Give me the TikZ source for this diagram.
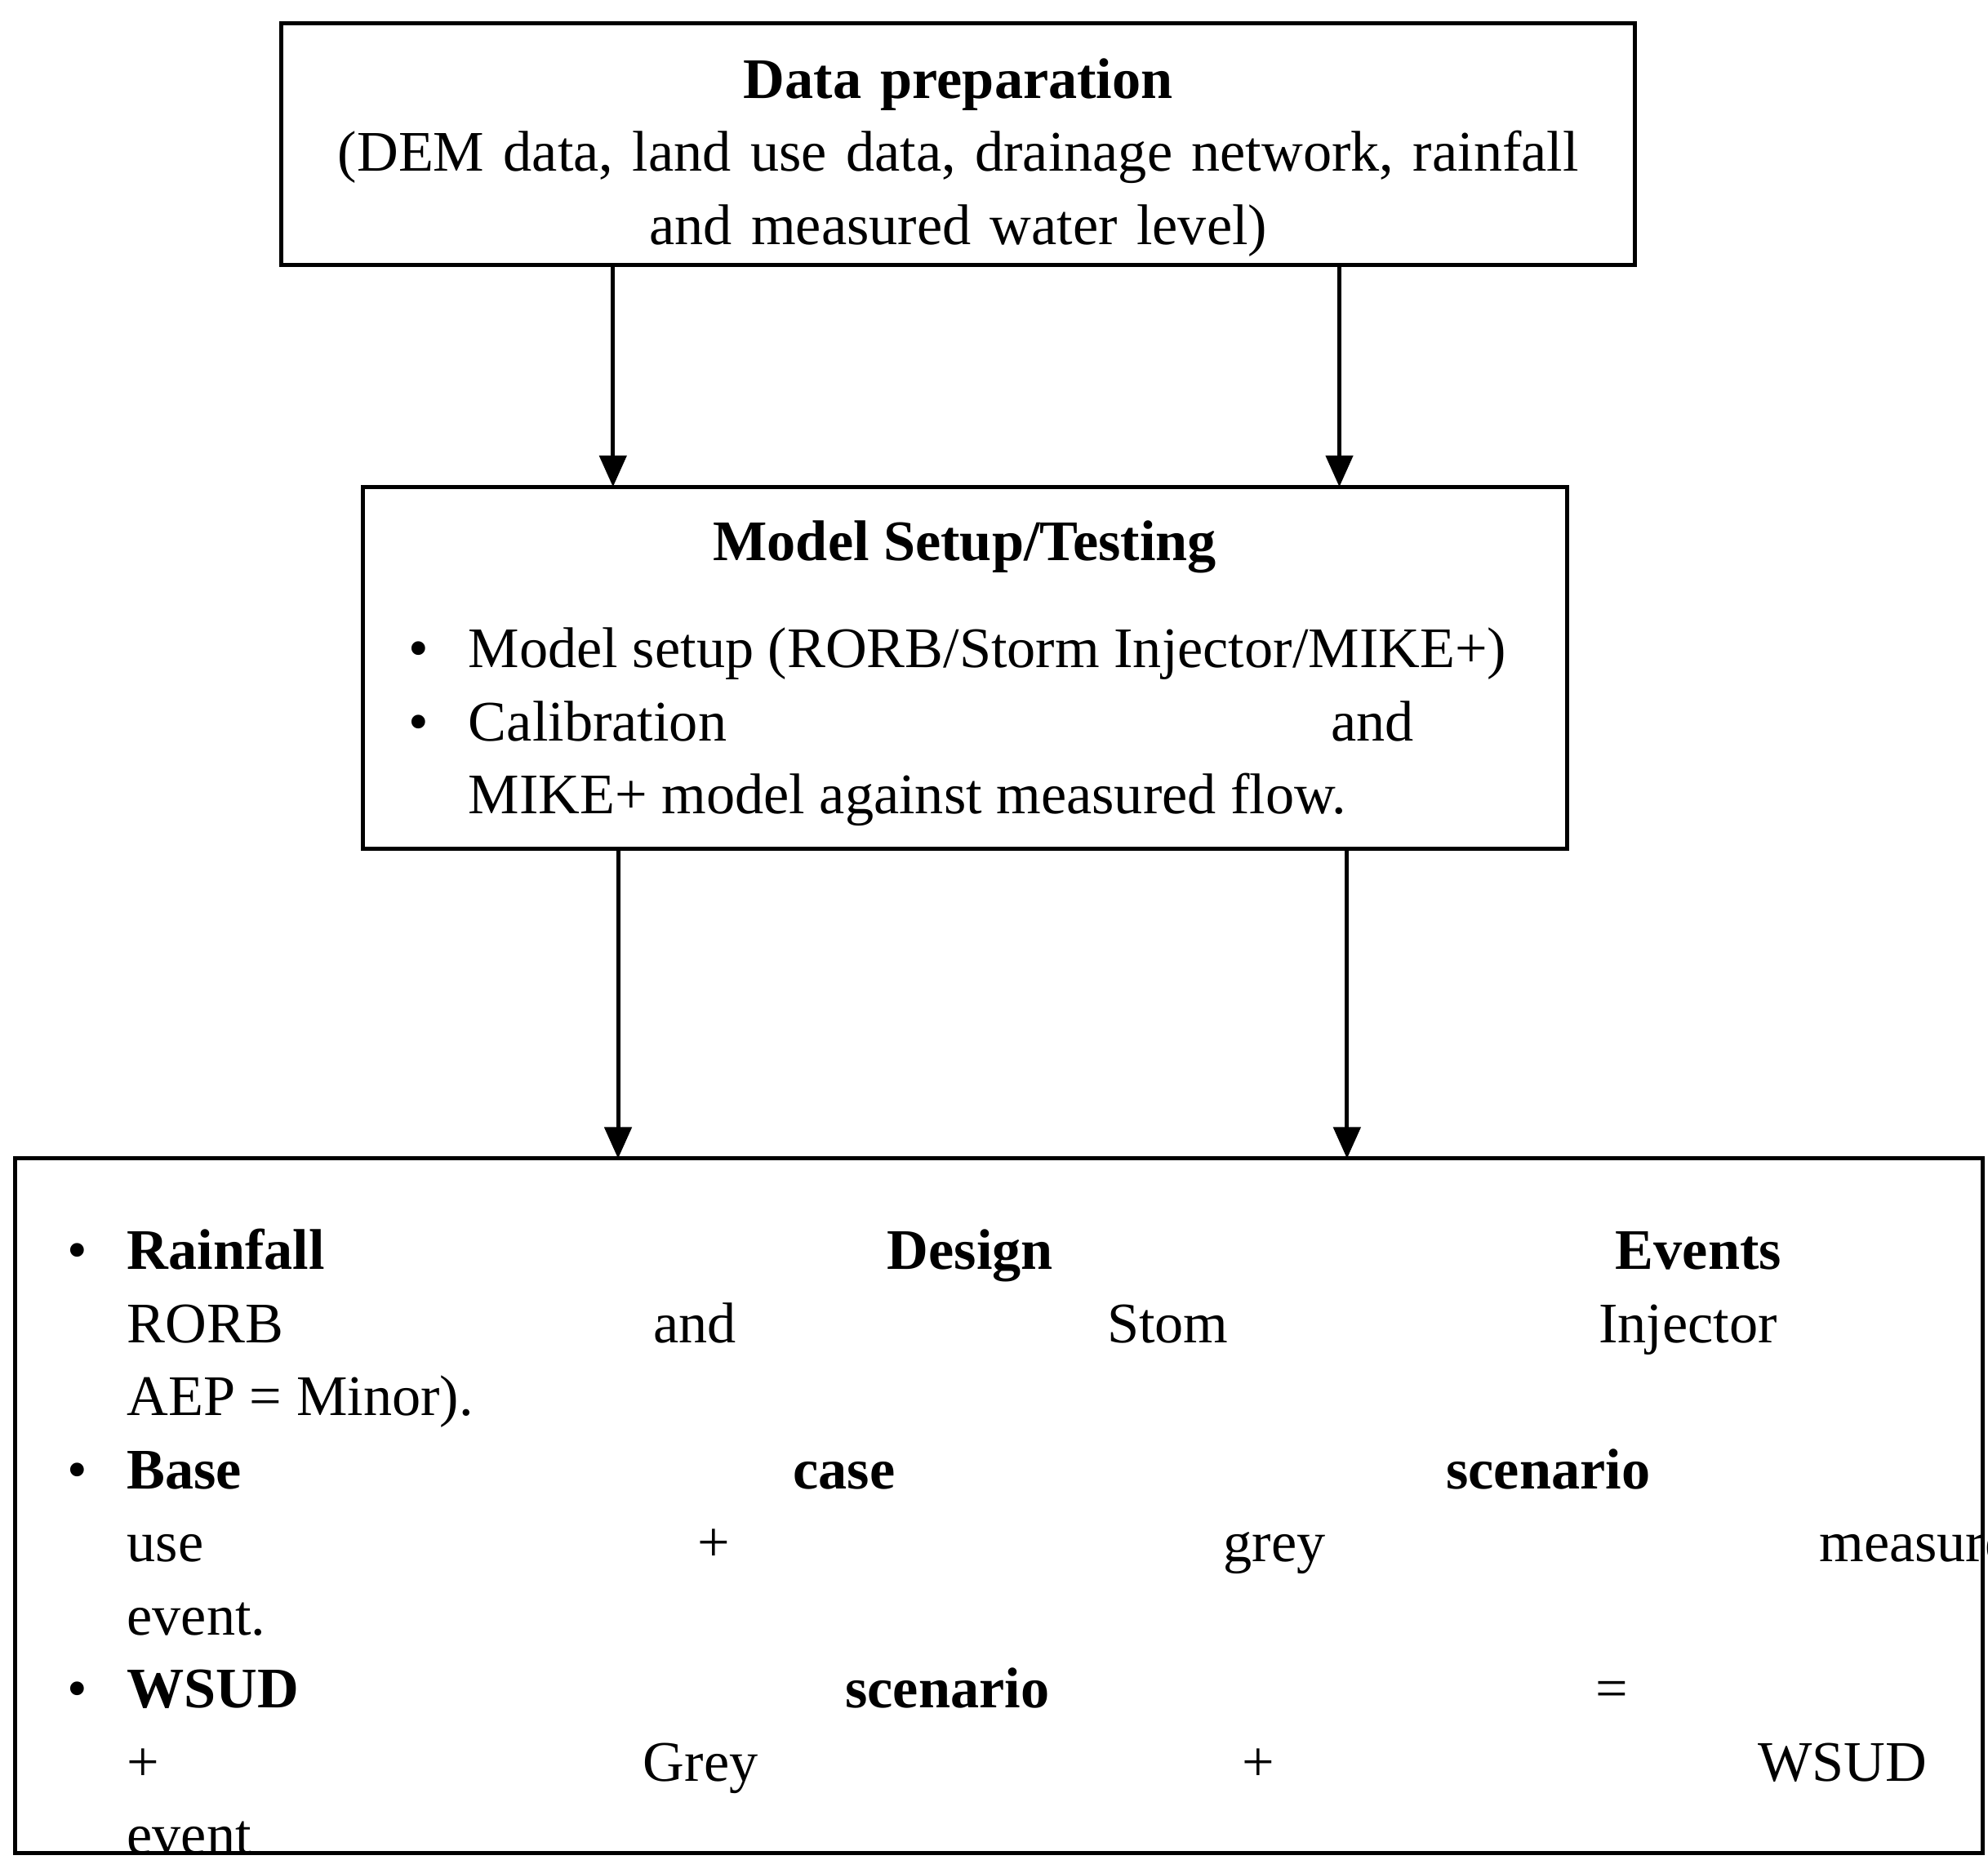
\documentclass[tikz,border=0pt]{standalone}
\usepackage{fontspec}
\setmainfont{Liberation Serif}
\usetikzlibrary{arrows.meta}
\newcommand\mybul{\makebox[0.47cm][l]{\textbullet}}
\newenvironment{mylist}{\begin{list}{}{\setlength{\leftmargin}{0.47cm}\setlength{\labelwidth}{0.47cm}\setlength{\labelsep}{0pt}\setlength{\itemsep}{0pt}\setlength{\parsep}{0pt}\setlength{\topsep}{0pt}}}{\end{list}}
\begin{document}
\begin{tikzpicture}[x=0.01cm,y=-0.01cm,
  box/.style={draw,line width=0.9pt},
  arr/.style={-{Triangle[length=7pt,width=6pt]},line width=0.9pt},
  txt/.style={inner sep=0pt,font=\fontsize{12.8}{16.3}\selectfont}]
\useasboundingbox (0,0) rectangle (1560,1459);
\draw[box] (221,18) rectangle (1283,208);
\draw[box] (285,382) rectangle (1230,666);
\draw[box] (12,909) rectangle (1556,1454);
\coordinate (b1a) at (481,208); \coordinate (b2a) at (481,382);
\coordinate (b1b) at (1051,208); \coordinate (b2b) at (1051,382);
\coordinate (c1a) at (485,666); \coordinate (c2a) at (485,909);
\coordinate (c1b) at (1057,666); \coordinate (c2b) at (1057,909);
\draw[arr] (b1a) -- (b2a);
\draw[arr] (b1b) -- (b2b);
\draw[arr] (c1a) -- (c2a);
\draw[arr] (c1b) -- (c2b);
\node[txt,anchor=north,align=center,text width=1040] (t1) at (752,45)
 {\textbf{Data preparation}\\(DEM data, land use data, drainage network, rainfall\\and measured water level)};
\node[txt,anchor=north,align=center] (t2) at (757,408) {\textbf{Model Setup/Testing}};
\node[txt,anchor=north west,text width=880,align=justify] (t3) at (320,466)
 {\begin{mylist}
 \item[\mybul] Model setup (RORB/Storm Injector/MIKE+)
 \item[\mybul] Calibration and Validation of RORB and\linebreak MIKE+ model against measured flow.
 \end{mylist}};
\node[txt,anchor=north west,text width=1474,align=justify] (t4) at (52,938)
 {\begin{mylist}
 \item[\mybul] \textbf{Rainfall Design Events} = Development of rainfall design events with\linebreak RORB and Stom Injector (1\% AEP -- Major, 20\% AEP = Moderate) and 63.2\%\linebreak AEP = Minor).
 \item[\mybul] \textbf{Base case scenario} = Hydrological modelling using MIKE+ (Current land\linebreak use + grey measures) under Major, Moderate and Minor rainfall design\linebreak event.
 \item[\mybul] \textbf{WSUD scenario} = Hydrological simulation using MIKE+ (Current land use\linebreak + Grey + WSUD infrastructure) Major, Moderate and Minor rainfall design\linebreak event
 \end{mylist}};
\end{tikzpicture}
\end{document}
